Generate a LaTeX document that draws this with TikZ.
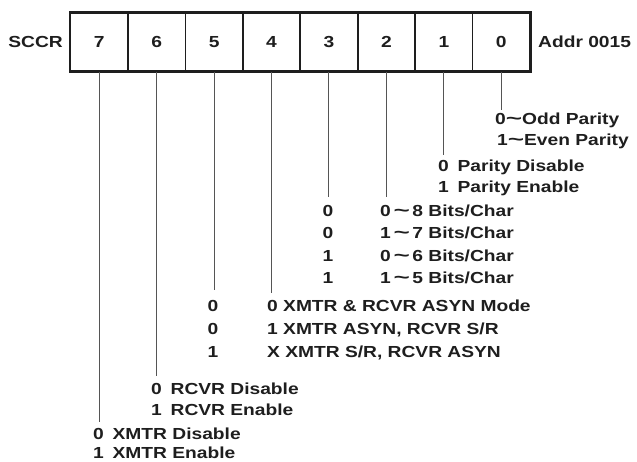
\documentclass[tikz,border=0pt]{standalone}
\usepackage{graphicx}
\usepackage{fontspec}
\newfontfamily\lblfont[FakeStretch=1.2]{Liberation Sans}
\definecolor{ink}{HTML}{1E1E1E}
\definecolor{wire}{HTML}{555555}
\newcommand{\wtilde}{\scalebox{1.45}[1.1]{\textasciitilde}}
\begin{document}
\begin{tikzpicture}[x=1pt,y=-1pt,
  lbl/.style={font=\lblfont\bfseries\fontsize{16}{20}\selectfont, text=ink, inner sep=0pt, text height=11.7pt, text depth=0pt},
  lw/.style={lbl, anchor=west},
  cell/.style={lbl, draw=ink, line width=1.6pt, minimum width=57.44pt, minimum height=58pt, anchor=center},
  wirestyle/.style={draw=wire, line width=1pt}]
\useasboundingbox (0,0) rectangle (637,461);
% register cells
\foreach \b [count=\i from 0] in {7,6,5,4,3,2,1,0}{
  \node[cell] (c\b) at ({70.5+28.72+57.44*\i},42) {\b};
}
\draw[draw=ink, line width=2.4pt] (c7.north west) rectangle (c0.south east);
\node[lbl, anchor=east] (sccr) at (63,42) {SCCR};
\node[lbl, anchor=west] (addr) at (538,42) {Addr 0015};
% end points of connectors
\coordinate (e0) at (c0.south |- 0,110);
\coordinate (e1) at (c1.south |- 0,155);
\coordinate (e2) at (c2.south |- 0,197);
\coordinate (e3) at (c3.south |- 0,197);
\coordinate (e4) at (c4.south |- 0,293);
\coordinate (e5) at (c5.south |- 0,290);
\coordinate (e6) at (c6.south |- 0,376);
\coordinate (e7) at (c7.south |- 0,422);
\foreach \b in {0,...,7}{ \draw[wirestyle] (c\b.south) -- (e\b); }
% bit 0
\node[lw] (odd) at (495,119) {0\wtilde Odd Parity};
\node[lw] (even) at (497,140) {1\wtilde Even Parity};
% bit 1
\node[lw] (pdis) at (438,166) {0\hspace{0.55em}Parity Disable};
\node[lw] (pen) at (438,187) {1\hspace{0.55em}Parity Enable};
% bits 3,2
\node[lbl] (b3a) at (328,210.5) {0};
\node[lbl] (b3b) at (328,233) {0};
\node[lbl] (b3c) at (328,255.5) {1};
\node[lbl] (b3d) at (328,278) {1};
\node[lw] (ch8) at (380,210.5) {0\,\wtilde\,8 Bits/Char};
\node[lw] (ch7) at (380,233) {1\,\wtilde\,7 Bits/Char};
\node[lw] (ch6) at (380,255.5) {0\,\wtilde\,6 Bits/Char};
\node[lw] (ch5) at (380,278) {1\,\wtilde\,5 Bits/Char};
% bits 5,4
\node[lbl] (b5a) at (213,306) {0};
\node[lbl] (b5b) at (213,329) {0};
\node[lbl] (b5c) at (213,352) {1};
\node[lw] (m0) at (267,306) {0 XMTR \& RCVR ASYN Mode};
\node[lw] (m1) at (267,329) {1 XMTR ASYN, RCVR S/R};
\node[lw] (m2) at (267,352) {X XMTR S/R, RCVR ASYN};
% bit 6
\node[lw] (rdis) at (151,389) {0\hspace{0.55em}RCVR Disable};
\node[lw] (ren) at (151,410) {1\hspace{0.55em}RCVR Enable};
% bit 7
\node[lw] (xdis) at (93,434) {0\hspace{0.55em}XMTR Disable};
\node[lw] (xen) at (93,453) {1\hspace{0.55em}XMTR Enable};
\end{tikzpicture}
\end{document}
